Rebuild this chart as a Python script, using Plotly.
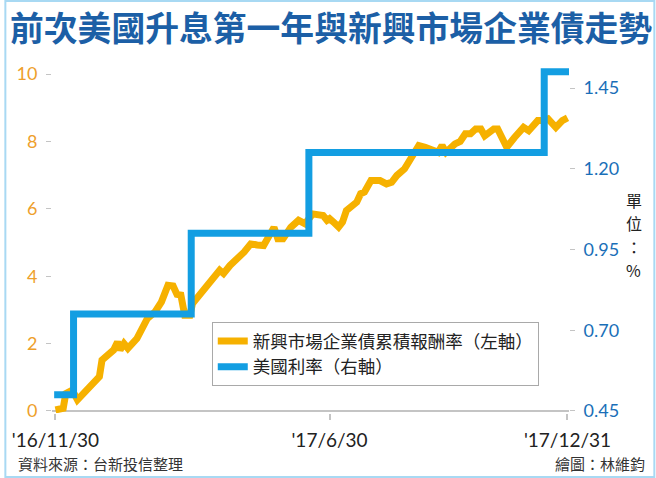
import plotly.graph_objects as go

# ---------------- data ----------------
bond_dates = [
    "2016-11-30", "2016-12-06", "2016-12-08", "2016-12-13", "2016-12-17", "2016-12-24",
    "2017-01-03", "2017-01-05", "2017-01-14", "2017-01-17", "2017-01-19", "2017-01-22",
    "2017-01-25", "2017-02-01", "2017-02-09", "2017-02-15", "2017-02-20", "2017-02-25",
    "2017-03-01", "2017-03-04", "2017-03-07", "2017-03-10", "2017-03-14", "2017-03-16",
    "2017-03-27", "2017-04-06", "2017-04-09", "2017-04-14", "2017-04-25", "2017-04-30",
    "2017-05-05", "2017-05-10", "2017-05-18", "2017-05-21", "2017-05-25", "2017-05-31",
    "2017-06-06", "2017-06-11", "2017-06-17", "2017-06-22", "2017-06-25", "2017-06-28",
    "2017-06-30", "2017-07-03", "2017-07-07", "2017-07-10", "2017-07-13", "2017-07-21",
    "2017-07-24", "2017-07-27", "2017-08-01", "2017-08-08", "2017-08-13", "2017-08-17",
    "2017-08-21", "2017-08-27", "2017-09-02", "2017-09-07", "2017-09-12", "2017-09-17",
    "2017-09-22", "2017-09-25", "2017-09-28", "2017-10-05", "2017-10-09", "2017-10-13",
    "2017-10-17", "2017-10-21", "2017-10-25", "2017-10-28", "2017-11-04", "2017-11-07",
    "2017-11-14", "2017-11-20", "2017-11-27", "2017-12-01", "2017-12-08", "2017-12-13",
    "2017-12-16", "2017-12-22", "2017-12-27", "2017-12-31",
]
bond_return = [
    0.03, 0.08, 0.52, 0.62, 0.33, 0.62,
    1.02, 1.51, 1.81, 2.05, 1.81, 2.00,
    1.86, 2.15, 2.74, 2.94, 3.24, 3.73,
    3.71, 3.46, 3.44, 2.84, 2.84, 3.19,
    3.73, 4.18, 4.08, 4.32, 4.72, 4.96,
    4.93, 4.91, 5.45, 5.11, 5.11, 5.45,
    5.66, 5.56, 5.85, 5.80, 5.80, 5.66,
    5.71, 5.61, 5.46, 5.61, 5.95, 6.20,
    6.45, 6.50, 6.84, 6.84, 6.74, 6.79,
    6.99, 7.19, 7.53, 7.88, 7.83, 7.78,
    7.68, 7.88, 7.68, 7.93, 8.00, 8.23,
    8.23, 8.37, 8.37, 8.17, 8.37, 8.37,
    7.83, 8.12, 8.42, 8.32, 8.62, 8.62,
    8.67, 8.42, 8.62, 8.70,
]

rate_dates = ["2016-11-29", "2016-12-14", "2017-03-15", "2017-06-14", "2017-12-13", "2018-01-03"]
rate_values = [0.50, 0.75, 1.00, 1.25, 1.50, 1.50]

left_ticks = [0, 2, 4, 6, 8, 10]
right_ticks = [0.45, 0.70, 0.95, 1.20, 1.45]
x_tick_dates = ["2016-11-30", "2017-06-30", "2017-12-31"]
x_tick_labels = ["'16/11/30", "'17/6/30", "'17/12/31"]

name_bond = "新興市場企業債累積報酬率（左軸）"
name_rate = "美國利率（右軸）"
title_text = "前次美國升息第一年與新興市場企業債走勢"
source_text = "資料來源：台新投信整理"
credit_text = "繪圖：林維鈞"
unit_chars = ["單", "位", "：", "%"]

# ---------------- style ----------------
W, H = 656, 478
L, R, T, B = 48, 87, 62, 65
YELLOW = "#f6b100"
BLUE = "#139ee2"
ORANGE = "#ee9f2c"
TICKBLUE = "#1a6fb8"
TITLEBLUE = "#1c5fa6"
GREY = "#c4c4c4"
CJK = "Noto Sans CJK TC"
NUM = "Lato"
RATIO = 0.1043  # right-axis units per left-axis unit

pw = W - L - R
ph = H - T - B


def px(xp):
    return (xp - L) / pw


def py(yp):
    return (H - B - yp) / ph


fig = go.Figure()
fig.add_trace(go.Scatter(
    x=rate_dates, y=rate_values, name=name_rate, yaxis="y2",
    mode="lines", line=dict(color=BLUE, width=7, shape="hv"),
))
fig.add_trace(go.Scatter(
    x=bond_dates, y=bond_return, name=name_bond,
    mode="lines", line=dict(color=YELLOW, width=7),
))

y_lo, y_hi = -0.06, 10.36
fig.update_layout(
    width=W, height=H,
    margin=dict(l=L, r=R, t=T, b=B),
    paper_bgcolor="white", plot_bgcolor="white",
    showlegend=True,
    legend=dict(
        x=px(209), y=py(322), xanchor="left", yanchor="top",
        bgcolor="white", bordercolor="#a9a9a9", borderwidth=1,
        font=dict(family=CJK, size=17.5, color="#222"),
        traceorder="reversed", itemwidth=30,
    ),
    title=dict(
        text=title_text, x=10 / W, xref="container", xanchor="left",
        y=1 - 29 / H, yref="container", yanchor="middle",
        font=dict(family=CJK, size=33.8, color=TITLEBLUE, weight="bold"),
    ),
    xaxis=dict(
        type="date",
        range=["2016-11-27 08:00", "2018-01-01 04:00"],
        tickvals=x_tick_dates, ticktext=x_tick_labels,
        ticks="outside", ticklen=6, tickcolor=GREY, tickwidth=2,
        showgrid=False, showline=False, zeroline=False,
        tickfont=dict(family=NUM, size=19, color="#222"),
        ticklabelstandoff=4,
    ),
    yaxis=dict(
        range=[y_lo, y_hi],
        tickvals=left_ticks,
        ticks="outside", ticklen=5, tickcolor=GREY, tickwidth=1,
        showgrid=False, showline=False,
        zeroline=True, zerolinecolor=GREY, zerolinewidth=2,
        tickfont=dict(family=NUM, size=18, color=ORANGE),
        ticklabelstandoff=5,
    ),
    yaxis2=dict(
        overlaying="y", side="right",
        range=[0.45 + y_lo * RATIO, 0.45 + y_hi * RATIO],
        tickvals=right_ticks, tickformat=".2f",
        ticks="outside", ticklen=5, tickcolor=GREY, tickwidth=1,
        showgrid=False, showline=False, zeroline=False,
        tickfont=dict(family=NUM, size=18, color=TICKBLUE),
        ticklabelstandoff=5,
    ),
)

# frame around the whole picture
fig.add_shape(
    type="rect", xref="paper", yref="paper",
    x0=px(1), x1=px(W - 1), y0=py(H - 1), y1=py(1),
    line=dict(color="#a8d9f3", width=2), fillcolor="rgba(0,0,0,0)", layer="below",
)

fig.add_annotation(
    text=source_text, xref="paper", yref="paper",
    x=px(12), y=py(463), xanchor="left", yanchor="middle",
    showarrow=False, font=dict(family=CJK, size=15, color="#333"),
)
fig.add_annotation(
    text=credit_text, xref="paper", yref="paper",
    x=px(648), y=py(463), xanchor="right", yanchor="middle",
    showarrow=False, font=dict(family=CJK, size=15, color="#333"),
)
for ch, yc in zip(unit_chars, [200, 223.3, 246.6, 270]):
    fig.add_annotation(
        text=ch, xref="paper", yref="paper",
        x=px(634), y=py(yc), xanchor="center", yanchor="middle",
        showarrow=False, borderpad=0,
        font=dict(family=CJK, size=16, color="#222"),
    )

fig.write_html(
    "out.html",
    config={"displayModeBar": False},
    post_script="document.body.style.margin='0px';",
)
